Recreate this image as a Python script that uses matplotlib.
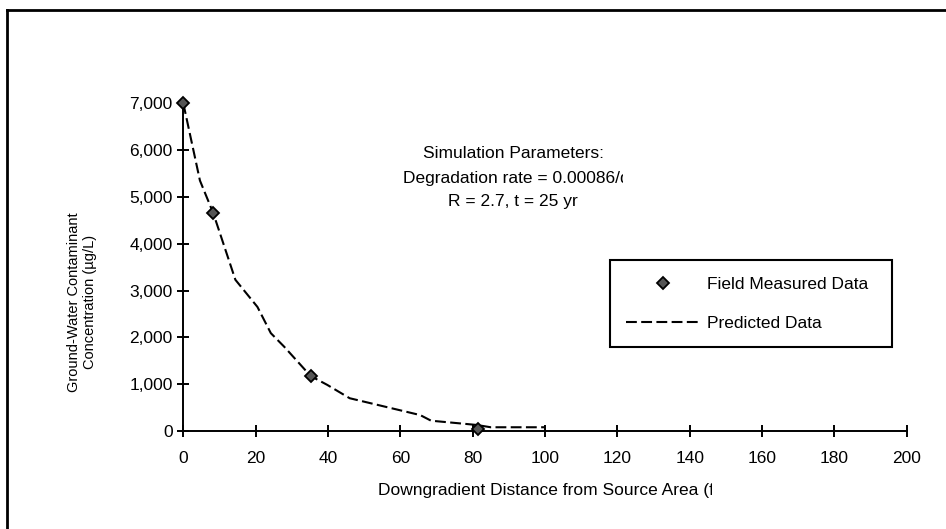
import matplotlib
matplotlib.use('Agg')
import matplotlib.pyplot as plt
from matplotlib.ticker import FuncFormatter
from matplotlib.transforms import Bbox, TransformedBbox
from matplotlib.lines import Line2D

# ---- data ----
field_x = [0, 8.3, 35.2, 81.5]
field_y = [7000, 4650, 1170, 40]
pred_x = [0, 4.6, 8.3, 14.4, 20.5, 24.2, 27.9, 35.2, 39.8, 46.0, 65.5, 68.5, 81.0, 85.0, 100.0]
pred_y = [7000, 5350, 4650, 3230, 2650, 2090, 1800, 1175, 985, 700, 340, 220, 130, 80, 80]
x_ticks = [0, 20, 40, 60, 80, 100, 120, 140, 160, 180, 200]
y_ticks = [0, 1000, 2000, 3000, 4000, 5000, 6000, 7000]
series_labels = ['Field Measured Data', 'Predicted Data']
x_label = 'Downgradient Distance from Source Area (ft)'
y_label = 'Ground-Water Contaminant\nConcentration (\u00b5g/L)'
note_lines = ['Simulation Parameters:', 'Degradation rate = 0.00086/day', 'R = 2.7, t = 25 yr']

W, H = 946, 529
plt.rcParams['font.family'] = ['Liberation Sans', 'DejaVu Sans']
fig = plt.figure(figsize=(W / 100, H / 100), dpi=100)
fig.patch.set_facecolor('white')

ax = fig.add_axes([183.3 / W, 1 - 431 / H, (906.7 - 183.3) / W, (431 - 103.3) / H])
ax.set_xlim(0, 200)
ax.set_ylim(0, 7000)

hp, = ax.plot(pred_x, pred_y, color='black', lw=1.5, linestyle=(0, (5.2, 2.1)),
              label=series_labels[1], zorder=2, clip_on=False)
hf, = ax.plot(field_x, field_y, linestyle='none', marker='D', markersize=6.5,
              markerfacecolor='#555555', markeredgecolor='black', markeredgewidth=1.3,
              label=series_labels[0], zorder=3, clip_on=False)

for s in ['top', 'right']:
    ax.spines[s].set_visible(False)
for s in ['left', 'bottom']:
    ax.spines[s].set_linewidth(1.4)
    ax.spines[s].set_color('black')

ax.set_xticks(x_ticks)
ax.set_yticks(y_ticks)
ax.yaxis.set_major_formatter(FuncFormatter(lambda v, p: f'{v:,.0f}'))
ax.tick_params(axis='both', direction='inout', length=8.5, width=1.4, colors='black', labelsize=12.5)
ax.tick_params(axis='y', pad=3.5)
ax.tick_params(axis='x', pad=10.5)

leg = ax.legend(handles=[hf, hp], loc='upper left',
                bbox_to_anchor=(610 / W, 1 - 350 / H, 282 / W, 90 / H),
                bbox_transform=fig.transFigure, mode='expand', frameon=True,
                fancybox=False, edgecolor='black', framealpha=1, fontsize=12.5,
                handlelength=4.26, handletextpad=0.35, borderpad=0.95,
                labelspacing=1.38, borderaxespad=0)
leg.get_frame().set_linewidth(1.5)

renderer = fig.canvas.get_renderer()

def visible_width(s, size):
    t = fig.text(0, 0, s, fontsize=size)
    w = t.get_window_extent(renderer).width
    t.remove()
    return w

# annotation text block (centred, the middle line clipped as in the original)
fs_note = 12.5
cx = 513
fig.text(cx / W, 1 - 153.5 / H, note_lines[0], ha='center', va='center', fontsize=fs_note)
w2 = visible_width('Degradation rate = 0.00086/', fs_note) + 3
x2 = cx - w2 / 2
t2 = fig.text(x2 / W, 1 - 179 / H, note_lines[1], ha='left', va='center', fontsize=fs_note)
t2.set_clip_box(TransformedBbox(Bbox([[0, 0], [(x2 + w2) / W, 1]]), fig.transFigure))
t2.set_clip_on(True)
fig.text(cx / W, 1 - 201 / H, note_lines[2], ha='center', va='center', fontsize=fs_note)

# x label (clipped like the original)
fs_lab = 12.5
wx = visible_width('Downgradient Distance from Source Area (', fs_lab) + 3
xx = 545 - wx / 2
tx = fig.text(xx / W, 1 - 490 / H, x_label, ha='left', va='center', fontsize=fs_lab)
tx.set_clip_box(TransformedBbox(Bbox([[0, 0], [(xx + wx) / W, 1]]), fig.transFigure))
tx.set_clip_on(True)

# y label
fig.text(82 / W, 1 - 302 / H, y_label, rotation=90, ha='center', va='center',
         multialignment='center', fontsize=10.5, linespacing=1.15)

# outer frame (top and left edges)
fig.add_artist(Line2D([7 / W, 1.01], [1 - 10 / H, 1 - 10 / H], transform=fig.transFigure,
                      color='black', lw=2))
fig.add_artist(Line2D([7 / W, 7 / W], [-0.01, 1 - 10 / H], transform=fig.transFigure,
                      color='black', lw=2))

fig.savefig('out.png', dpi=100, facecolor='white')
